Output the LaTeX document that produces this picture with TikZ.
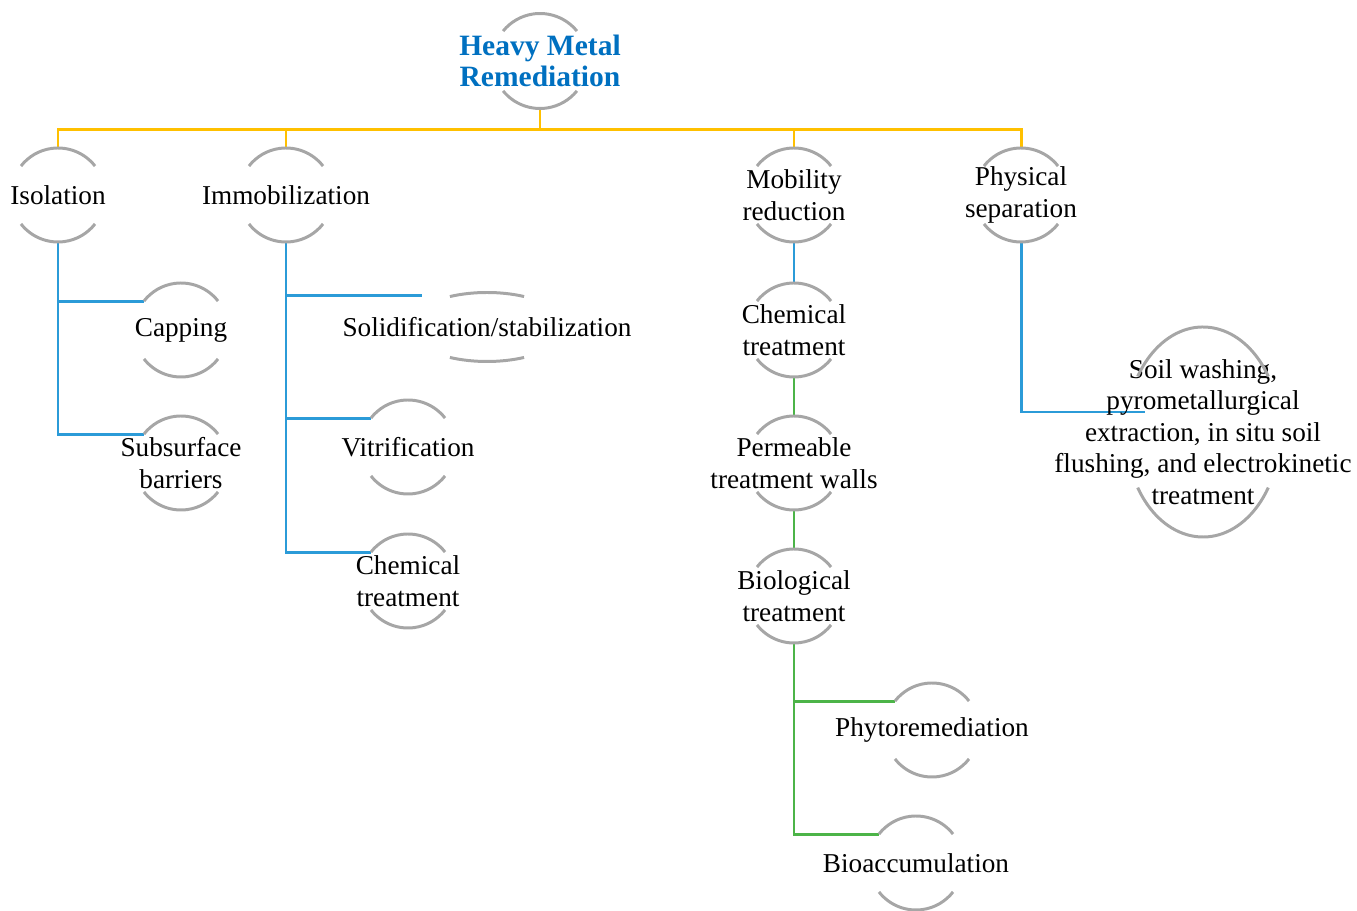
\documentclass[tikz,border=0pt]{standalone}
\usepackage{fontspec}
\setmainfont{Liberation Serif}
\usetikzlibrary{positioning,calc,backgrounds}

\definecolor{hmyellow}{HTML}{FFC000}
\definecolor{hmblue}{HTML}{2B9BD8}
\definecolor{hmgreen}{HTML}{4CB448}
\definecolor{hmgrey}{HTML}{A6A6A6}
\definecolor{hmtitle}{HTML}{0070C0}

\tikzstyle{method}=[align=center,inner sep=0pt,yshift=0.02cm,font=\fontsize{15.5}{17.9}\selectfont]
\tikzstyle{root}=[method,text=hmtitle,font=\fontsize{16.8}{17.9}\selectfont\bfseries]
\tikzstyle{ring}=[draw=hmgrey,line width=1.7pt]
\tikzstyle{yline}=[draw=hmyellow,line width=1.7pt]
\tikzstyle{bline}=[draw=hmblue,line width=1.7pt]
\tikzstyle{gline}=[draw=hmgreen,line width=1.7pt]

% arcs above and below a node: name, x radius, y radius, half angle
\newcommand{\rings}[4]{%
  \draw[ring] (#1.center) ++({90-#4}:#2 and #3)
    arc[start angle={90-#4}, end angle={90+#4}, x radius=#2, y radius=#3];
  \draw[ring] (#1.center) ++({270-#4}:#2 and #3)
    arc[start angle={270-#4}, end angle={270+#4}, x radius=#2, y radius=#3];
  \coordinate (#1-n) at ($(#1.center)+(0,#3)$);
  \coordinate (#1-s) at ($(#1.center)+(0,-#3)$);
  \coordinate (#1-w) at ($(#1.center)+({90+#4}:#2 and #3)$);
}

\begin{document}
\begin{tikzpicture}[x=0.02cm,y=0.02cm]
            \useasboundingbox (0,0) rectangle (1357,-911);

            % TOP

            \node[root] (root) at (540,-62) {Heavy Metal\\Remediation};
            \rings{root}{47.5}{47.5}{51}
            \coordinate (bus) at (540,-130);

            \node[method] (iso) at (58,-196) {Isolation};
            \node[method] (immob) at (286,-196) {Immobilization};
            \node[method] (mob) at (794,-196) {Mobility\\reduction};
            \node[method] (phys) at (1021,-196) {Physical\\separation};
            \rings{iso}{47}{47}{52}
            \rings{immob}{47}{47}{52}
            \rings{mob}{47}{47}{52}
            \rings{phys}{47}{47}{52}

            % ISOLATION PART

            \node[method] (cap) at (181,-331) {Capping};
            \node[method] (sub) at (181,-464) {Subsurface\\barriers};
            \rings{cap}{47}{47}{52}
            \rings{sub}{47}{47}{52}

            % IMMOBILIZATION PART

            \node[method] (solid) at (487,-328) {Solidification/stabilization};
            \node[method] (vitr) at (408,-448) {Vitrification};
            \node[method] (chema) at (408,-582) {Chemical\\treatment};
            \rings{solid}{79}{34.5}{28}
            \rings{vitr}{47}{47}{52}
            \rings{chema}{47}{47}{52}
            \coordinate (solid-in) at (422,-296);

            % MOBILITY REDUCTION PART

            \node[method] (chemb) at (794,-331) {Chemical\\treatment};
            \node[method] (perm) at (794,-464) {Permeable\\treatment walls};
            \node[method] (bio) at (794,-597) {Biological\\treatment};
            \node[method] (phyto) at (932,-731) {Phytoremediation};
            \node[method] (bioacc) at (916,-864) {Bioaccumulation};
            \rings{chemb}{47}{47}{52}
            \rings{perm}{47}{47}{52}
            \rings{bio}{47}{47}{52}
            \rings{phyto}{47}{47}{52}
            \rings{bioacc}{47}{47}{52}

            % PHYSICAL SEPARATION PART

            \node[method] (soil) at (1203,-433) {Soil washing,\\pyrometallurgical\\extraction, in situ soil\\flushing, and electrokinetic\\treatment};
            \rings{soil}{77}{105}{58}
            \coordinate (soil-in) at (1145,-412);

            % Connections

            \begin{scope}[on background layer]
            \draw[yline] (root-s) -- (bus);
            \draw[yline] (bus) -| (iso-n);
            \draw[yline] (bus) -| (immob-n);
            \draw[yline] (bus) -| (mob-n);
            \draw[yline] (bus) -| (phys-n);

            \draw[bline] (iso-s) |- (cap-w);
            \draw[bline] (iso-s) |- (sub-w);
            \draw[bline] (immob-s) |- (solid-in);
            \draw[bline] (immob-s) |- (vitr-w);
            \draw[bline] (immob-s) |- (chema-w);

            \draw[bline] (mob-s) -- (chemb-n);
            \draw[gline] (chemb-s) -- (perm-n);
            \draw[gline] (perm-s) -- (bio-n);
            \draw[gline] (bio-s) |- (phyto-w);
            \draw[gline] (bio-s) |- (bioacc-w);

            \draw[bline] (phys-s) |- (soil-in);
            \end{scope}

\end{tikzpicture}
\end{document}
